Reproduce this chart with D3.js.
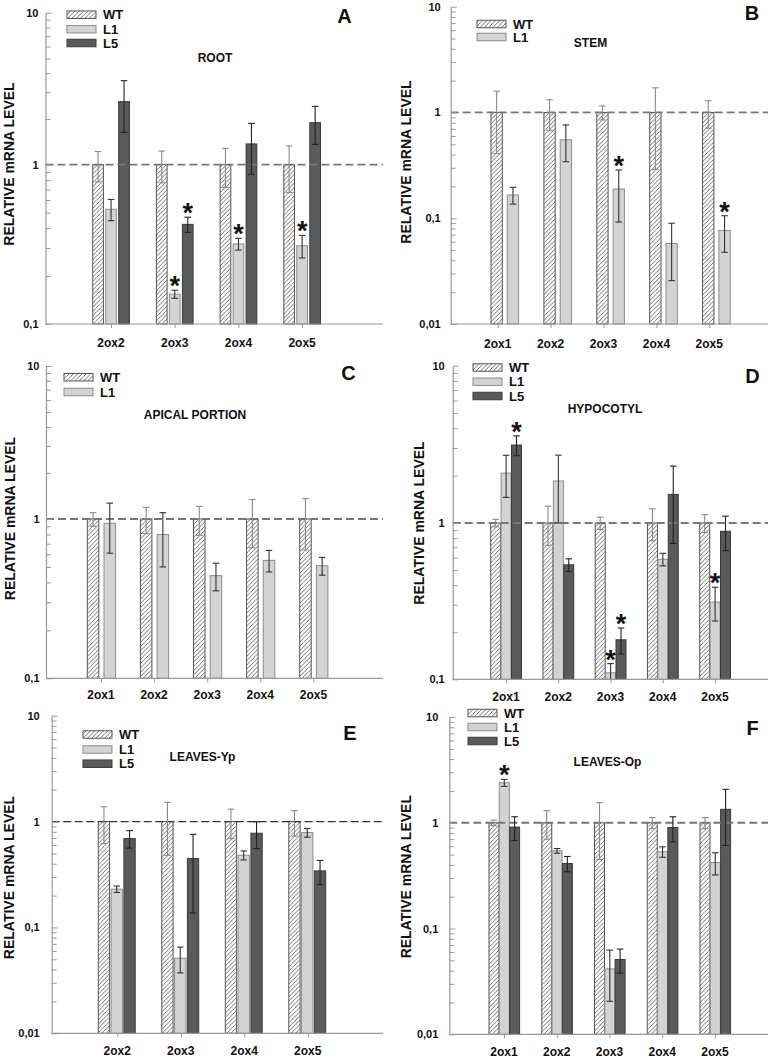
<!DOCTYPE html>
<html><head><meta charset="utf-8">
<script src="https://cdn.jsdelivr.net/npm/d3@7"></script>
<style>
body{margin:0;background:#fff}
text{font-family:"Liberation Sans",Arial,sans-serif;font-weight:bold;fill:#111}
</style>
</head><body>
<svg id="c" width="771" height="1058"></svg>
<script>
// ---------- DATA ----------
const seriesNames = ["WT", "L1", "L5"];
const decadeTicks = [0.01, 0.1, 1, 10];

// A - ROOT
const catsA = ["2ox2", "2ox3", "2ox4", "2ox5"];
const wtA = [1, 1, 1, 1];
const wtErrA = [0.22, 0.23, 0.28, 0.33];
const l1A = [0.525, 0.154, 0.318, 0.31];
const l1ErrA = [0.08, 0.009, 0.027, 0.05];
const l5A = [2.6, 0.422, 1.37, 1.89];
const l5ErrA = [0.97, 0.046, 0.5, 0.53];
const starL1A = [0, 1, 1, 1];
const starL5A = [0, 1, 0, 0];

// B - STEM
const catsB = ["2ox1", "2ox2", "2ox3", "2ox4", "2ox5"];
const wtB = [1, 1, 1, 1, 1];
const wtErrB = [0.59, 0.32, 0.15, 0.71, 0.29];
const l1B = [0.166, 0.552, 0.189, 0.0577, 0.0766];
const l1ErrB = [0.03, 0.21, 0.097, 0.032, 0.029];
const starL1B = [0, 0, 1, 0, 1];

// C - APICAL PORTION
const catsC = ["2ox1", "2ox2", "2ox3", "2ox4", "2ox5"];
const wtC = [1, 1, 1, 1, 1];
const wtErrC = [0.1, 0.19, 0.21, 0.34, 0.36];
const l1C = [0.94, 0.80, 0.441, 0.55, 0.509];
const l1ErrC = [0.33, 0.30, 0.087, 0.085, 0.065];
const starL1C = [0, 0, 0, 0, 0];

// D - HYPOCOTYL
const catsD = ["2ox1", "2ox2", "2ox3", "2ox4", "2ox5"];
const wtD = [1, 1, 1, 1, 1];
const wtErrD = [0.055, 0.28, 0.09, 0.23, 0.13];
const l1D = [2.075, 1.85, 0.110, 0.586, 0.312];
const l1ErrD = [0.62, 0.85, 0.016, 0.054, 0.076];
const l5D = [3.13, 0.54, 0.179, 1.52, 0.885];
const l5ErrD = [0.45, 0.05, 0.034, 0.78, 0.22];
const starL1D = [0, 0, 1, 0, 1];
const starL5D = [1, 0, 1, 0, 0];

// E - LEAVES-Yp
const catsE = ["2ox2", "2ox3", "2ox4", "2ox5"];
const wtE = [1, 1, 1, 1];
const wtErrE = [0.38, 0.52, 0.31, 0.27];
const l1E = [0.23, 0.0512, 0.481, 0.787];
const l1ErrE = [0.016, 0.014, 0.047, 0.075];
const l5E = [0.691, 0.447, 0.776, 0.342];
const l5ErrE = [0.13, 0.31, 0.22, 0.087];
const starL1E = [0, 0, 0, 0];
const starL5E = [0, 0, 0, 0];

// F - LEAVES-Op
const catsF = ["2ox1", "2ox2", "2ox3", "2ox4", "2ox5"];
const wtF = [1, 1, 1, 1, 1];
const wtErrF = [0.06, 0.30, 0.55, 0.12, 0.12];
const l1F = [2.39, 0.543, 0.0415, 0.532, 0.421];
const l1ErrF = [0.18, 0.028, 0.021, 0.06, 0.1];
const l5F = [0.91, 0.412, 0.0509, 0.90, 1.34];
const l5ErrF = [0.23, 0.068, 0.013, 0.24, 0.73];
const starL1F = [1, 0, 0, 0, 0];
const starL5F = [0, 0, 0, 0, 0];

const yTitle = "RELATIVE mRNA LEVEL";

// ---------- STYLE / LAYOUT ----------
const svg = d3.select("#c");
const defs = svg.append("defs");
const pat = defs.append("pattern").attr("id", "hatch")
  .attr("patternUnits", "userSpaceOnUse").attr("width", 4.3).attr("height", 4.3);
pat.append("rect").attr("width", 4.3).attr("height", 4.3).attr("fill", "#fff");
pat.append("path").attr("d", "M-1,1.075 l2.15,-2.15 M0,4.3 l4.3,-4.3 M3.225,5.375 l2.15,-2.15")
  .attr("stroke", "#444").attr("stroke-width", 0.75);

const style = {
  WT: { fill: "url(#hatch)", stroke: "#555", err: "#8a8a8a" },
  L1: { fill: "#d3d3d3", stroke: "#8c8c8c", err: "#333" },
  L5: { fill: "#5a5a5a", stroke: "#3a3a3a", err: "#222" }
};

function drawPanel(L, cats, ser) {
  const g = svg.append("g");
  const y = d3.scaleLog().domain(L.yDom).range(L.yRng).clamp(true);
  const x = d3.scalePoint().domain(cats).range([L.c0, L.c0 + L.cStep * (cats.length - 1)]);
  const yMinV = L.yDom[0], yMaxV = L.yDom[L.yDom.length - 1];
  const y0 = y(yMinV);

  // bars
  ser.forEach((s, i) => {
    const st = style[s.key];
    g.append("g").selectAll("rect").data(cats).enter().append("rect")
      .attr("x", c => x(c) + L.off + i * L.bStep)
      .attr("width", L.bw)
      .attr("y", (c, j) => y(s.v[j]))
      .attr("height", (c, j) => y0 - y(s.v[j]))
      .attr("fill", st.fill).attr("stroke", st.stroke).attr("stroke-width", 1);
  });

  // dashed reference line
  g.append("line").attr("x1", L.ax).attr("x2", L.xEnd).attr("y1", y(1)).attr("y2", y(1))
    .attr("stroke", L.dashColor).attr("stroke-width", L.dashW).attr("stroke-dasharray", L.dash);

  // error bars + stars
  ser.forEach((s, i) => {
    const st = style[s.key];
    const eg = g.append("g").attr("stroke", st.err).attr("stroke-width", 1.1);
    cats.forEach((c, j) => {
      const cx = x(c) + L.off + i * L.bStep + L.bw / 2;
      const hi = s.v[j] + s.e[j];
      const loV = s.v[j] - s.e[j];
      const yHi = y(hi);
      const yLo = loV > yMinV ? y(loV) : y0;
      eg.append("line").attr("x1", cx).attr("x2", cx).attr("y1", yHi).attr("y2", yLo);
      eg.append("line").attr("x1", cx - 3.3).attr("x2", cx + 3.3).attr("y1", yHi).attr("y2", yHi);
      if (loV > yMinV) eg.append("line").attr("x1", cx - 3.3).attr("x2", cx + 3.3).attr("y1", yLo).attr("y2", yLo);
      if (s.star && s.star[j]) {
        g.append("text").attr("x", cx).attr("y", yHi + 5).attr("text-anchor", "middle")
          .attr("font-size", 27).text("*");
      }
    });
  });

  // y axis
  const allTicks = y.ticks();
  const major = decadeTicks.filter(t => t >= yMinV && t <= yMaxV);
  const minor = allTicks.filter(t => !major.some(m => Math.abs(m - t) < 1e-9));
  const ya = g.append("g").attr("transform", `translate(${L.ax},0)`)
    .call(d3.axisLeft(y).tickValues(major).tickSizeInner(-6).tickSizeOuter(0).tickPadding(L.gap)
      .tickFormat(d => String(d).replace(".", ",")));
  ya.select(".domain").attr("stroke", "#999").attr("stroke-width", 1.2);
  ya.selectAll(".tick line").attr("stroke", "#999");
  ya.selectAll(".tick text").attr("font-size", 11).attr("font-family", "Liberation Sans, Arial, sans-serif")
    .attr("font-weight", "bold").attr("fill", "#111");
  const ym = g.append("g").attr("transform", `translate(${L.ax},0)`)
    .call(d3.axisLeft(y).tickValues(minor).tickSizeInner(-5).tickSizeOuter(0).tickFormat(""));
  ym.select(".domain").remove();
  ym.selectAll(".tick line").attr("stroke", "#999");

  // x axis
  g.append("line").attr("x1", L.ax).attr("x2", L.xEnd).attr("y1", y0).attr("y2", y0)
    .attr("stroke", "#999").attr("stroke-width", 1.2);
  const xa = g.append("g").attr("transform", `translate(0,${y0})`)
    .call(d3.axisBottom(x).tickSizeInner(4).tickSizeOuter(0).tickFormat(""));
  xa.select(".domain").remove();
  xa.selectAll(".tick line").attr("stroke", "#999");
  g.append("g").selectAll("text").data(cats).enter().append("text")
    .attr("x", c => x(c)).attr("y", L.xlabY).attr("text-anchor", "middle")
    .attr("font-size", 12).text(c => c);

  // y title
  g.append("text").attr("transform", `translate(${L.title[0]},${L.title[1]}) rotate(-90)`)
    .attr("text-anchor", "middle").attr("dy", "0.36em").attr("font-size", 14).text(yTitle);

  // legend
  ser.forEach((s, i) => {
    const st = style[s.key];
    g.append("rect").attr("x", L.legX).attr("y", L.legY[i] - 3.75).attr("width", 29).attr("height", 7.5)
      .attr("fill", st.fill).attr("stroke", st.stroke).attr("stroke-width", 1);
    g.append("text").attr("x", L.legX + 36).attr("y", L.legY[i]).attr("dy", "0.36em")
      .attr("font-size", 13).text(s.key);
  });

  // panel letter and subtitle
  g.append("text").attr("x", L.letter[0]).attr("y", L.letter[1]).attr("text-anchor", "middle")
    .attr("font-size", 20).text(L.letter[2]);
  g.append("text").attr("x", L.sub[0]).attr("y", L.sub[1]).attr("text-anchor", "middle")
    .attr("font-size", 12).text(L.sub[2]);
}

const dashGray = { dashColor: "#777", dashW: 1.8, dash: "8,4" };

drawPanel(Object.assign({
  ax: 45.5, xEnd: 383, yDom: [0.1, 1, 10], yRng: [324, 164.7, 12.7],
  c0: 111, cStep: 63.7, off: -18.3, bStep: 13, bw: 10.7, gap: 7,
  legX: 67, legY: [14.7, 29.2, 43], letter: [344.5, 23, "A"], sub: [215, 62, "ROOT"],
  xlabY: 346.5, title: [8.7, 164]
}, dashGray), catsA, [
  { key: "WT", v: wtA, e: wtErrA },
  { key: "L1", v: l1A, e: l1ErrA, star: starL1A },
  { key: "L5", v: l5A, e: l5ErrA, star: starL5A }
]);

drawPanel(Object.assign({
  ax: 450.7, xEnd: 768, yDom: [0.01, 10], yRng: [324, 6.7],
  c0: 497.7, cStep: 52.9, off: -6.7, bStep: 16.3, bw: 11.3, gap: 10,
  legX: 477, legY: [24, 37], letter: [752, 20, "B"], sub: [590.5, 46.5, "STEM"],
  xlabY: 347.5, title: [405.8, 162]
}, dashGray), catsB, [
  { key: "WT", v: wtB, e: wtErrB },
  { key: "L1", v: l1B, e: l1ErrB, star: starL1B }
]);

drawPanel(Object.assign({
  ax: 46, xEnd: 383, yDom: [0.1, 1, 10], yRng: [678.3, 519, 366],
  c0: 101, cStep: 53.1, off: -13.7, bStep: 16.7, bw: 11.5, gap: 6.5,
  legX: 64, legY: [377.2, 392], letter: [348.5, 379.5, "C"], sub: [195, 419, "APICAL PORTION"],
  xlabY: 699.3, title: [10, 518.5]
}, dashGray), catsC, [
  { key: "WT", v: wtC, e: wtErrC },
  { key: "L1", v: l1C, e: l1ErrC, star: starL1C }
]);

drawPanel(Object.assign({
  ax: 452.7, xEnd: 768, yDom: [0.1, 1, 10], yRng: [679.3, 523, 365.7],
  c0: 506, cStep: 52.25, off: -15.3, bStep: 10.4, bw: 10, gap: 8,
  legX: 473, legY: [367.5, 381.7, 396], letter: [752.5, 383, "D"], sub: [605, 412.5, "HYPOCOTYL"],
  xlabY: 700.7, title: [418.7, 523]
}, dashGray), catsD, [
  { key: "WT", v: wtD, e: wtErrD },
  { key: "L1", v: l1D, e: l1ErrD, star: starL1D },
  { key: "L5", v: l5D, e: l5ErrD, star: starL5D }
]);

drawPanel({
  ax: 51.7, xEnd: 383, yDom: [0.01, 10], yRng: [1033.3, 715.7],
  c0: 117.3, cStep: 63.5, off: -19, bStep: 12.8, bw: 11.3, gap: 12,
  legX: 83, legY: [734.5, 749.5, 763.7], letter: [350, 739.5, "E"], sub: [202.5, 761, "LEAVES-Yp"],
  xlabY: 1055, title: [9.2, 877.5],
  dashColor: "#333", dashW: 1.2, dash: "8,3.5"
}, catsE, [
  { key: "WT", v: wtE, e: wtErrE },
  { key: "L1", v: l1E, e: l1ErrE, star: starL1E },
  { key: "L5", v: l5E, e: l5ErrE, star: starL5E }
]);

drawPanel(Object.assign({
  ax: 449.3, xEnd: 768, yDom: [0.01, 10], yRng: [1034.3, 717],
  c0: 504, cStep: 52.75, off: -15, bStep: 10.3, bw: 10, gap: 11,
  legX: 468, legY: [713, 727, 741], letter: [752.5, 735, "F"], sub: [607.5, 766, "LEAVES-Op"],
  xlabY: 1056, title: [405.8, 876.7]
}, dashGray), catsF, [
  { key: "WT", v: wtF, e: wtErrF },
  { key: "L1", v: l1F, e: l1ErrF, star: starL1F },
  { key: "L5", v: l5F, e: l5ErrF, star: starL5F }
]);
</script>
</body></html>
